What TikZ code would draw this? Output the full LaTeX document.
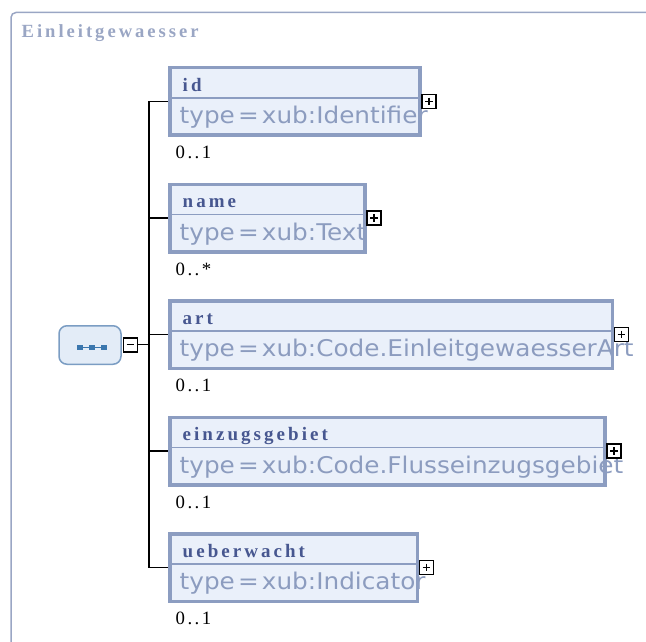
\documentclass[tikz,border=0pt]{standalone}
\usepackage{fontspec}
\newfontfamily\hdrfont[LetterSpace=16]{Liberation Serif}
\newfontfamily\ttlfont[LetterSpace=16]{Liberation Serif}
\newfontfamily\cardfont[LetterSpace=13]{Liberation Serif}
\newfontfamily\typefont[FakeStretch=1.075,WordSpace=0.4]{DejaVu Sans}
\definecolor{framec}{HTML}{9AA6C4}
\definecolor{borderc}{HTML}{8C9DC1}
\definecolor{fillc}{HTML}{EAF0FA}
\definecolor{hdrc}{HTML}{475790}
\definecolor{typec}{HTML}{8C9CBF}
\definecolor{seqfill}{HTML}{E3ECF7}
\definecolor{seqdraw}{HTML}{7B9DC3}
\definecolor{dotc}{HTML}{3B77AE}
\tikzset{
  frame/.style={draw=framec, line width=1.5pt, rounded corners=5pt},
  elemfill/.style={fill=fillc, draw=none, outer sep=0pt, inner sep=0pt, rectangle},
  elemborder/.style={draw=borderc, line width=3.5pt},
  hdrline/.style={draw=borderc, line width=1.3pt},
  hdr/.style={font=\hdrfont\bfseries\fontsize{19}{20}\selectfont, text=hdrc, inner sep=0pt},
  typ/.style={font=\typefont\fontsize{23}{26}\selectfont, text=typec, inner sep=0pt},
  card/.style={font=\cardfont\fontsize{18.8}{20}\selectfont, text=black, inner sep=0pt},
  ttl/.style={font=\ttlfont\bfseries\fontsize{18.6}{20}\selectfont, text=framec, inner sep=0pt},
  conn/.style={draw=black, line width=1.5pt},
  pbox/.style={draw=black, fill=white, line width=1.6pt, minimum size=14pt, inner sep=0pt, outer sep=0pt},
  seqbox/.style={draw=seqdraw, fill=seqfill, line width=1.5pt, rounded corners=8pt, minimum width=62pt, minimum height=38.5pt, inner sep=0pt},
}
\newcommand\elembox[6]{%
  \pgfmathsetmacro\ebw{#3-168.3}%
  \node[elemfill, anchor=north west, minimum width=\ebw pt, minimum height=71pt] (#1) at (168.3,#2) {};
  \draw[hdrline] (170.5,{#2+32}) -- ({#3-2},{#2+32});
  \node[hdr, anchor=base west] (#1-t) at (182.5,{#2+25.2}) {#4};
  \node[typ, anchor=base west] (#1-ty) at (179.5,{#2+57.8}) {#5};
  \draw[elemborder] ([shift={(1.75,1.75)}]#1.north west) rectangle ([shift={(-1.75,-1.75)}]#1.south east);
  \node[pbox] (#1-p) at ({#3+7.5},{#2+35.5}) {};
  \draw[line width=1.5pt] ([shift={(-3.8,0)}]#1-p.center) -- ([shift={(3.8,0)}]#1-p.center);
  \draw[line width=1.5pt] ([shift={(0,-3.8)}]#1-p.center) -- ([shift={(0,3.8)}]#1-p.center);
  \node[card, anchor=base west] (#1-c) at (175.5,{#2+92.5}) {#6};
}
\begin{document}
\begin{tikzpicture}[x=1pt,y=-1pt]
\useasboundingbox (0,0) rectangle (646,642);
\draw[frame] (11,12.5) rectangle (720,720);
\node[ttl, anchor=base west] (title) at (21.5,37.3) {Einleitgewaesser};

\elembox{id}{66}{421.5}{id}{type = xub:Identifier}{0..1}
\elembox{name}{182.5}{366.5}{name}{type = xub:Text}{0..*}
\elembox{art}{299}{614}{art}{type = xub:Code.EinleitgewaesserArt}{0..1}
\elembox{einz}{415.5}{606.5}{einzugsgebiet}{type = xub:Code.Flusseinzugsgebiet}{0..1}
\elembox{ueb}{532}{419}{ueberwacht}{type = xub:Indicator}{0..1}

% sequence compositor
\node[seqbox] (seq) at (90,345) {};
\coordinate (d1) at (80,347.8);
\coordinate (d2) at (92,347.8);
\coordinate (d3) at (104,347.8);
\draw[dotc, line width=1pt] (d1) -- (d3);
\foreach \d in {d1,d2,d3}{
  \fill[dotc] ([shift={(-2.6,-2.6)}]\d) rectangle ([shift={(2.6,2.6)}]\d);
}
\node[pbox] (minus) at (130.5,344.7) {};
\draw[line width=1.5pt] ([shift={(-3.8,0)}]minus.center) -- ([shift={(3.8,0)}]minus.center);

\coordinate (join) at (149,345.5);
\draw[conn] (minus.east) -- (minus.east -| join);
\draw[conn] (id.west -| join) -- (ueb.west -| join);
\foreach \b in {id,name,art,einz,ueb}{
  \draw[conn] (\b.west -| join) -- (\b.west);
}
\end{tikzpicture}
\end{document}
